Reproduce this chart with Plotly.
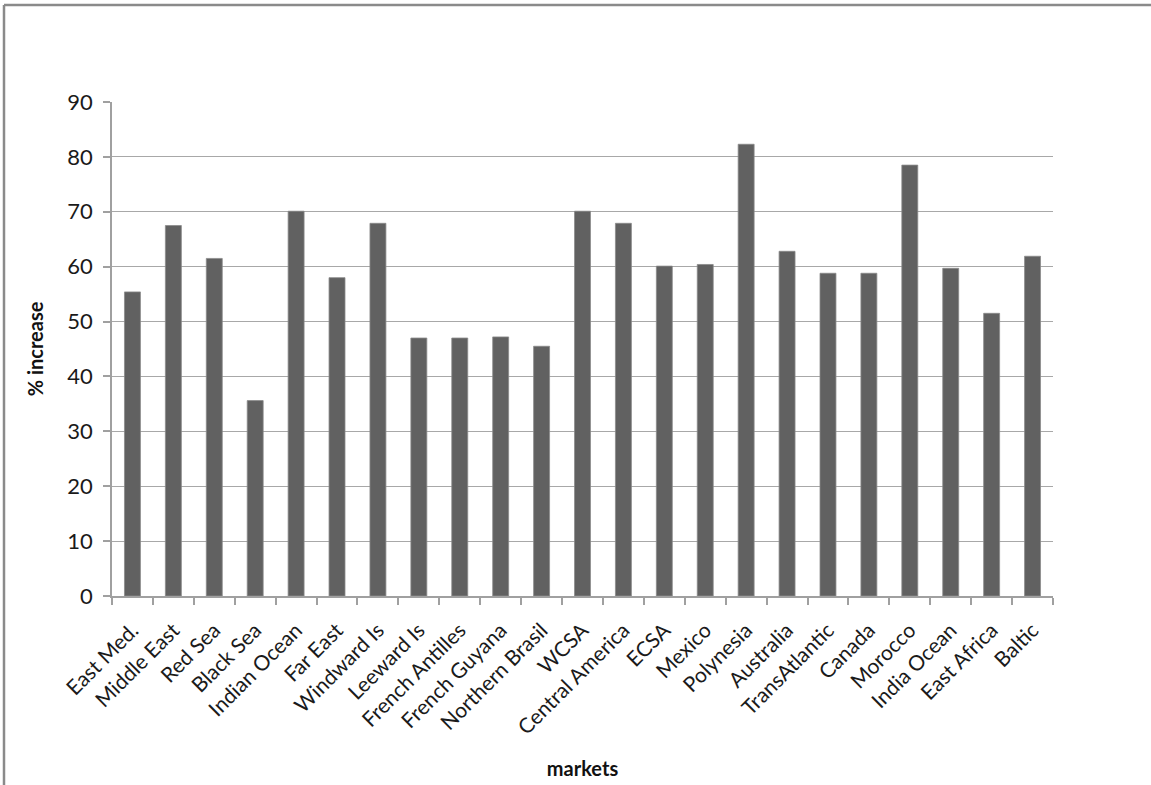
import plotly.graph_objects as go

markets = ["East Med.", "Middle East", "Red Sea", "Black Sea", "Indian Ocean", "Far East",
           "Windward Is", "Leeward Is", "French Antilles", "French Guyana", "Northern Brasil",
           "WCSA", "Central America", "ECSA", "Mexico", "Polynesia", "Australia",
           "TransAtlantic", "Canada", "Morocco", "India Ocean", "East Africa", "Baltic"]
pct_increase = [55.4, 67.5, 61.5, 35.6, 70.1, 58.0, 67.9, 47.0, 47.0, 47.2, 45.5,
                70.1, 67.9, 60.1, 60.4, 82.3, 62.8, 58.8, 58.8, 78.5, 59.7, 51.5, 61.9]
y_ticks = [0, 10, 20, 30, 40, 50, 60, 70, 80, 90]

FONT = "Lato, 'Open Sans', sans-serif"

fig = go.Figure(go.Bar(
    x=markets, y=pct_increase,
    marker=dict(color="#616161", line=dict(color="#8a8a8a", width=0.8)),
))

L, R, T, B = 112, 98, 102, 189
W, H = 1151, 785
pw, ph = W - L - R, H - T - B

fig.update_layout(
    width=W, height=H,
    margin=dict(l=L, r=R, t=T, b=B, autoexpand=False),
    paper_bgcolor="white", plot_bgcolor="white",
    bargap=0.61,
    showlegend=False,
    font=dict(family=FONT, color="#222222"),
    xaxis=dict(
        tickangle=-45, tickfont=dict(size=21, family=FONT, color="#1a1a1a"),
        ticklabelstandoff=12,
        showline=True, linecolor="#a0a0a0", linewidth=1.5,
        ticks="outside", ticklen=7, tickcolor="#a0a0a0", tickwidth=1.5,
        tickson="boundaries", showgrid=False, automargin=False,
        title=dict(text="<b>markets</b>", font=dict(size=20, family=FONT, color="#111"), standoff=24),
    ),
    yaxis=dict(
        range=[0, 90], tickvals=y_ticks,
        tickfont=dict(size=22, family=FONT, color="#1a1a1a"),
        ticklabelstandoff=6,
        showline=True, linecolor="#a0a0a0", linewidth=1.5,
        ticks="outside", ticklen=7, tickcolor="#a0a0a0", tickwidth=1.5,
        showgrid=True, gridcolor="#a8a8a8", gridwidth=1.2,
        zeroline=False, automargin=False,
        title=dict(text="<b>% increase</b>", font=dict(size=20, family=FONT, color="#111"), standoff=18),
    ),
)

x0 = (4 - L) / pw
y1 = 1 + (T - 5) / ph
fig.add_shape(type="line", xref="paper", yref="paper", x0=x0, x1=x0, y0=-B / ph, y1=y1,
              line=dict(color="#8a8a8a", width=2.5))
fig.add_shape(type="line", xref="paper", yref="paper", x0=x0, x1=(W - L) / pw, y0=y1, y1=y1,
              line=dict(color="#8a8a8a", width=2.5))

fig.write_html("out.html")
